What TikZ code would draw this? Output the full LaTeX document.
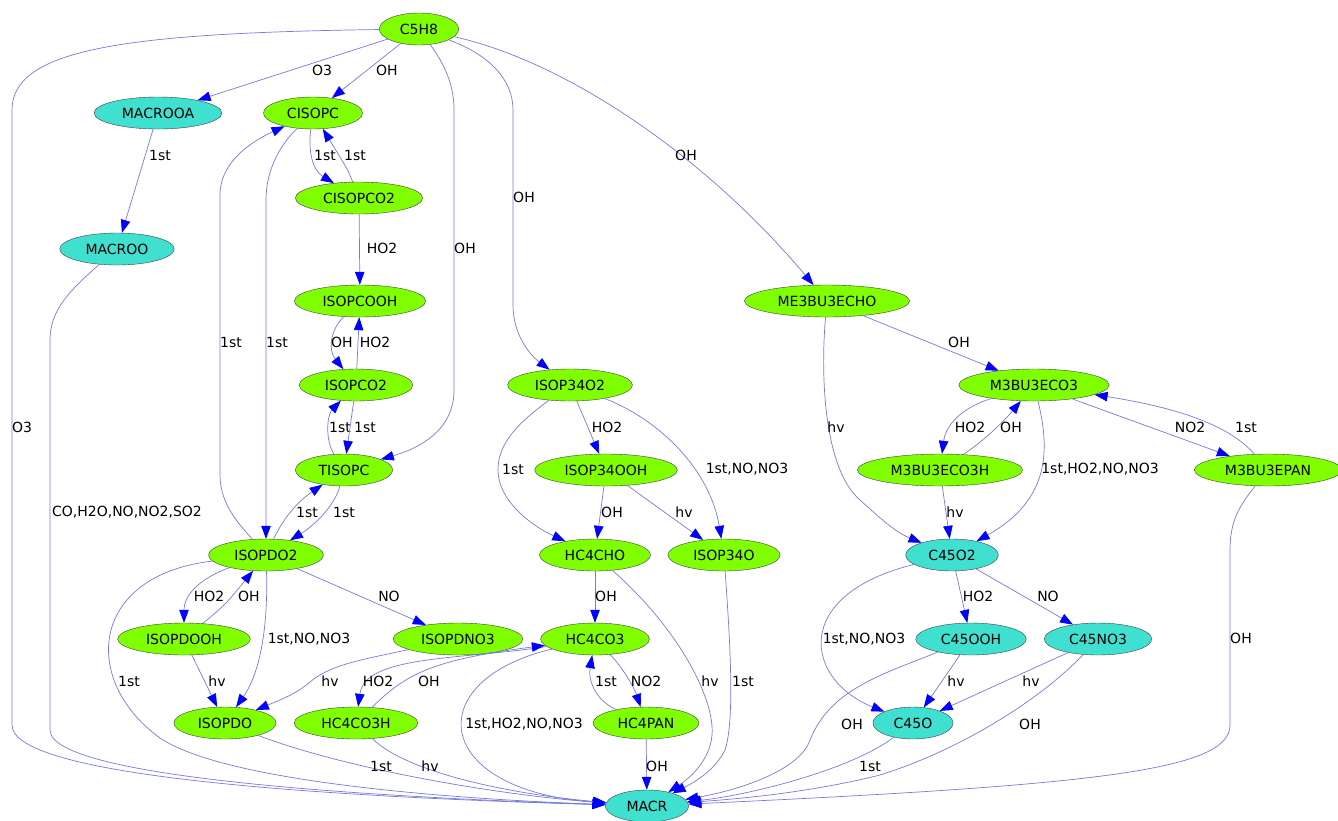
\PassOptionsToPackage{svgnames}{xcolor}
\documentclass[tikz,border=0pt]{standalone}
\usepackage{fontspec}
\setmainfont{DejaVu Sans}
\usetikzlibrary{shapes.geometric, arrows.meta}
\definecolor{edgeblue}{RGB}{120,120,222}
\tikzstyle{species} = [
  ellipse, draw=black!75, fill=Chartreuse, thin,
  inner xsep=9pt, inner ysep=2pt, minimum height=32pt,
  font=\fontsize{14}{16}\selectfont
]
\tikzstyle{radical} = [species, fill=Turquoise]
\tikzstyle{arrow} = [-{Triangle[length=13pt, width=9.5pt, color=blue]}, draw=edgeblue, line width=0.7pt]
\tikzstyle{lbl} = [inner sep=0pt, font=\fontsize{14}{16}\selectfont]

\begin{document}
\begin{tikzpicture}[x=1pt, y=-1pt]
  \useasboundingbox (0,0) rectangle (1338,820);

  % species
  \node[species] (c5h8) at (419, 29) {C5H8};
  \node[radical] (macrooa) at (158, 113) {MACROOA};
  \node[species] (cisopc) at (313, 113) {CISOPC};
  \node[species] (cisopco2) at (359, 198) {CISOPCO2};
  \node[radical] (macroo) at (117, 249) {MACROO};
  \node[species] (isopcooh) at (360, 301) {ISOPCOOH};
  \node[species] (me3bu3echo) at (827, 301) {ME3BU3ECHO};
  \node[species] (isopco2) at (356, 385) {ISOPCO2};
  \node[species] (isop34o2) at (570, 385) {ISOP34O2};
  \node[species] (m3bu3eco3) at (1034, 385) {M3BU3ECO3};
  \node[species] (tisopc) at (344, 470) {TISOPC};
  \node[species] (isop34ooh) at (606, 470) {ISOP34OOH};
  \node[species] (m3bu3eco3h) at (940, 470) {M3BU3ECO3H};
  \node[species] (m3bu3epan) at (1268, 470) {M3BU3EPAN};
  \node[species] (isopdo2) at (266, 555) {ISOPDO2};
  \node[species] (hc4cho) at (595, 555) {HC4CHO};
  \node[species] (isop34o) at (724, 555) {ISOP34O};
  \node[radical] (c45o2) at (952, 555) {C45O2};
  \node[species] (isopdooh) at (184, 639) {ISOPDOOH};
  \node[species] (isopdno3) at (458, 639) {ISOPDNO3};
  \node[species] (hc4co3) at (595, 639) {HC4CO3};
  \node[radical] (c45ooh) at (971, 639) {C45OOH};
  \node[radical] (c45no3) at (1098, 639) {C45NO3};
  \node[species] (isopdo) at (225, 723) {ISOPDO};
  \node[species] (hc4co3h) at (356, 723) {HC4CO3H};
  \node[species] (hc4pan) at (646, 723) {HC4PAN};
  \node[radical] (c45o) at (913, 723) {C45O};
  \node[radical] (macr) at (647, 806) {MACR};

  % C5H8 branch
  \draw[arrow] (c5h8) -- (macrooa) node[lbl] at (322, 70) {O3};
  \draw[arrow] (c5h8) -- (cisopc) node[lbl] at (387, 70) {OH};
  \draw[arrow] (c5h8) .. controls (120, 33) and (12, 50) .. (12, 110) -- (12, 725)
    .. controls (12, 775) and (300, 796) .. (macr) node[lbl] at (22, 427) {O3};
  \draw[arrow] (c5h8) .. controls (445, 65) and (454, 85) .. (454, 110) -- (454, 390)
    .. controls (454, 430) and (420, 448) .. (tisopc) node[lbl] at (465, 248) {OH};
  \draw[arrow] (c5h8) .. controls (490, 55) and (513, 80) .. (513, 110) -- (513, 305)
    .. controls (513, 335) and (530, 355) .. (isop34o2) node[lbl] at (524, 197) {OH};
  \draw[arrow] (c5h8) .. controls (560, 60) and (700, 150) .. (me3bu3echo) node[lbl] at (686, 155) {OH};

  \draw[arrow] (macrooa) -- (macroo) node[lbl] at (160, 155) {1st};
  \draw[arrow] (macroo) .. controls (70, 290) and (50, 310) .. (50, 340) -- (50, 730)
    .. controls (50, 780) and (400, 798) .. (macr) node[lbl] at (127, 512) {CO,H2O,NO,NO2,SO2};

  % CISOPC / ISOPCO2 / TISOPC
  \draw[arrow] (cisopc) .. controls (308, 150) and (312, 170) .. (cisopco2) node[lbl] at (325, 155) {1st};
  \draw[arrow] (cisopco2) .. controls (348, 170) .. (cisopc) node[lbl] at (355, 155) {1st};
  \draw[arrow] (cisopc) .. controls (280, 145) and (266, 170) .. (266, 200) -- (isopdo2) node[lbl] at (277, 342) {1st};
  \draw[arrow] (isopdo2) .. controls (240, 525) and (220, 505) .. (220, 475) -- (220, 195)
    .. controls (220, 160) and (255, 140) .. (cisopc) node[lbl] at (231, 342) {1st};
  \draw[arrow] (cisopco2) -- (isopcooh) node[lbl] at (382, 248) {HO2};
  \draw[arrow] (isopcooh) .. controls (330, 330) and (328, 350) .. (isopco2) node[lbl] at (342, 342) {OH};
  \draw[arrow] (isopco2) -- (isopcooh) node[lbl] at (375, 342) {HO2};
  \draw[arrow] (tisopc) .. controls (325, 440) and (327, 415) .. (isopco2) node[lbl] at (340, 427) {1st};
  \draw[arrow] (isopco2) -- (tisopc) node[lbl] at (365, 427) {1st};
  \draw[arrow] (isopdo2) .. controls (285, 515) and (300, 500) .. (tisopc) node[lbl] at (307, 512) {1st};
  \draw[arrow] (tisopc) .. controls (335, 505) and (315, 525) .. (isopdo2) node[lbl] at (344, 512) {1st};

  % ISOPDO2 branch
  \draw[arrow] (isopdo2) .. controls (200, 578) and (184, 595) .. (isopdooh) node[lbl] at (209, 596) {HO2};
  \draw[arrow] (isopdooh) .. controls (225, 605) .. (isopdo2) node[lbl] at (249, 596) {OH};
  \draw[arrow] (isopdo2) -- (isopdno3) node[lbl] at (389, 596) {NO};
  \draw[arrow] (isopdo2) .. controls (268, 620) and (262, 670) .. (isopdo) node[lbl] at (309, 639) {1st,NO,NO3};
  \draw[arrow] (isopdo2) .. controls (90, 575) and (80, 680) .. (160, 738)
    .. controls (230, 785) and (480, 800) .. (macr) node[lbl] at (129, 681) {1st};
  \draw[arrow] (isopdooh) -- (isopdo) node[lbl] at (217, 681) {hv};
  \draw[arrow] (isopdno3) .. controls (360, 660) and (330, 665) .. (310, 682)
    .. controls (295, 695) and (275, 702) .. (isopdo) node[lbl] at (330, 681) {hv};
  \draw[arrow] (isopdo) .. controls (350, 770) and (500, 795) .. (macr) node[lbl] at (381, 766) {1st};

  % HC4CO3 branch
  \draw[arrow] (hc4co3) .. controls (460, 660) and (365, 655) .. (hc4co3h) node[lbl] at (378, 681) {HO2};
  \draw[arrow] (hc4co3h) .. controls (405, 675) and (430, 660) .. (hc4co3) node[lbl] at (429, 681) {OH};
  \draw[arrow] (hc4co3h) .. controls (410, 775) and (520, 795) .. (macr) node[lbl] at (430, 766) {hv};
  \draw[arrow] (hc4cho) -- (hc4co3) node[lbl] at (606, 596) {OH};
  \draw[arrow] (hc4co3) .. controls (625, 670) and (635, 690) .. (hc4pan) node[lbl] at (646, 681) {NO2};
  \draw[arrow] (hc4pan) .. controls (595, 700) and (588, 680) .. (hc4co3) node[lbl] at (606, 681) {1st};
  \draw[arrow] (hc4co3) .. controls (420, 680) and (430, 790) .. (macr) node[lbl] at (524, 724) {1st,HO2,NO,NO3};
  \draw[arrow] (hc4pan) -- (macr) node[lbl] at (657, 766) {OH};
  \draw[arrow] (hc4cho) .. controls (680, 630) and (715, 700) .. (712, 735)
    .. controls (710, 760) and (690, 778) .. (macr) node[lbl] at (710, 681) {hv};
  \draw[arrow] (isop34o) .. controls (730, 640) and (735, 720) .. (725, 750)
    .. controls (715, 770) and (695, 782) .. (macr) node[lbl] at (743, 681) {1st};

  % ISOP34O2 branch
  \draw[arrow] (isop34o2) -- (isop34ooh) node[lbl] at (607, 427) {HO2};
  \draw[arrow] (isop34o2) .. controls (515, 425) and (498, 445) .. (498, 470)
    .. controls (498, 500) and (530, 525) .. (hc4cho) node[lbl] at (513, 469) {1st};
  \draw[arrow] (isop34o2) .. controls (660, 420) and (710, 470) .. (isop34o) node[lbl] at (747, 469) {1st,NO,NO3};
  \draw[arrow] (isop34ooh) -- (hc4cho) node[lbl] at (612, 512) {OH};
  \draw[arrow] (isop34ooh) -- (isop34o) node[lbl] at (684, 512) {hv};

  % ME3BU3ECHO branch
  \draw[arrow] (me3bu3echo) -- (m3bu3eco3) node[lbl] at (959, 342) {OH};
  \draw[arrow] (me3bu3echo) .. controls (820, 380) and (825, 470) .. (860, 500)
    .. controls (880, 518) and (895, 532) .. (c45o2) node[lbl] at (836, 427) {hv};
  \draw[arrow] (m3bu3eco3) .. controls (955, 410) and (945, 430) .. (m3bu3eco3h) node[lbl] at (970, 427) {HO2};
  \draw[arrow] (m3bu3eco3h) .. controls (985, 440) and (1005, 420) .. (m3bu3eco3) node[lbl] at (1011, 427) {OH};
  \draw[arrow] (m3bu3eco3) -- (m3bu3epan) node[lbl] at (1190, 427) {NO2};
  \draw[arrow] (m3bu3epan) .. controls (1225, 420) and (1160, 405) .. (m3bu3eco3) node[lbl] at (1246, 427) {1st};
  \draw[arrow] (m3bu3eco3) .. controls (1050, 450) and (1050, 500) .. (c45o2) node[lbl] at (1100, 469) {1st,HO2,NO,NO3};
  \draw[arrow] (m3bu3eco3h) -- (c45o2) node[lbl] at (955, 512) {hv};
  \draw[arrow] (m3bu3epan) .. controls (1240, 505) and (1230, 520) .. (1230, 550) -- (1230, 725)
    .. controls (1230, 770) and (1100, 785) .. (macr) node[lbl] at (1241, 638) {OH};

  % C45O2 branch
  \draw[arrow] (c45o2) -- (c45ooh) node[lbl] at (978, 596) {HO2};
  \draw[arrow] (c45o2) -- (c45no3) node[lbl] at (1048, 596) {NO};
  \draw[arrow] (c45o2) .. controls (790, 595) and (805, 680) .. (c45o) node[lbl] at (864, 639) {1st,NO,NO3};
  \draw[arrow] (c45ooh) -- (c45o) node[lbl] at (956, 681) {hv};
  \draw[arrow] (c45no3) -- (c45o) node[lbl] at (1031, 681) {hv};
  \draw[arrow] (c45ooh) .. controls (880, 675) and (830, 690) .. (810, 740)
    .. controls (800, 770) and (740, 790) .. (macr) node[lbl] at (852, 724) {OH};
  \draw[arrow] (c45no3) .. controls (1040, 700) and (960, 750) .. (880, 775)
    .. controls (800, 795) and (720, 800) .. (macr) node[lbl] at (1030, 724) {OH};
  \draw[arrow] (c45o) .. controls (850, 770) and (750, 795) .. (macr) node[lbl] at (870, 766) {1st};

\end{tikzpicture}
\end{document}
